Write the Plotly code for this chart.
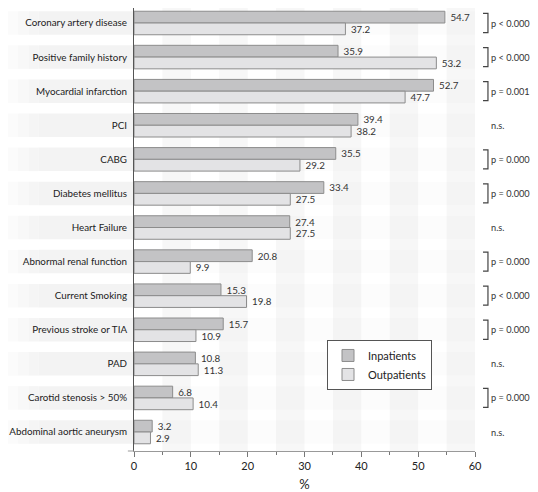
import plotly.graph_objects as go

categories = ["Coronary artery disease", "Positive family history", "Myocardial infarction",
              "PCI", "CABG", "Diabetes mellitus", "Heart Failure", "Abnormal renal function",
              "Current Smoking", "Previous stroke or TIA", "PAD", "Carotid stenosis > 50%",
              "Abdominal aortic aneurysm"]
inpatients = [54.7, 35.9, 52.7, 39.4, 35.5, 33.4, 27.4, 20.8, 15.3, 15.7, 10.8, 6.8, 3.2]
outpatients = [37.2, 53.2, 47.7, 38.2, 29.2, 27.5, 27.5, 9.9, 19.8, 10.9, 11.3, 10.4, 2.9]
p_values = ["p < 0.0001", "p < 0.0001", "p = 0.001", "n.s.", "p = 0.0005", "p = 0.0001", "n.s.",
            "p = 0.0001", "p < 0.0001", "p = 0.0001", "n.s.", "p = 0.0001", "n.s."]
x_tick_vals = [0, 10, 20, 30, 40, 50, 60]

FONT = "Lato"
Y_RANGE = [12.557, -0.44]
NBSP = "\u00a0"

fig = go.Figure()
fig.add_trace(go.Bar(
    y=categories, x=inpatients, orientation="h", name="Inpatients",
    marker=dict(color="#c3c3c5", line=dict(color="#8c8c8c", width=1)),
    text=[f"{NBSP}{v:.1f}" for v in inpatients], textposition="outside", cliponaxis=False,
    textfont=dict(size=10, color="#333333", family=FONT),
))
fig.add_trace(go.Bar(
    y=categories, x=outpatients, orientation="h", name="Outpatients",
    marker=dict(color="#e3e3e5", line=dict(color="#8c8c8c", width=1)),
    text=[f"{NBSP}{v:.1f}" for v in outpatients], textposition="outside", cliponaxis=False,
    textfont=dict(size=10, color="#333333", family=FONT),
))

shapes = []
# vertical background stripes
for s in range(5, 60, 10):
    shapes.append(dict(type="rect", xref="x", yref="y domain", x0=s, x1=s + 5, y0=0, y1=1,
                       fillcolor="#f7f7f7", line=dict(width=0), layer="below"))

def yfrac(v):
    return (Y_RANGE[0] - v) / (Y_RANGE[0] - Y_RANGE[1])

n = len(categories)
for i in range(n):
    # label band (gradient approximation)
    steps = [(-0.37, -0.34, "#fbfbfb"), (-0.34, -0.31, "#f8f8f8"), (-0.31, -0.28, "#f5f5f5"),
             (-0.28, 0.0, "#f3f3f3")]
    for x0, x1, c in steps:
        shapes.append(dict(type="rect", xref="x domain", yref="y domain", x0=x0, x1=x1,
                           y0=yfrac(i + 0.345), y1=yfrac(i - 0.345), fillcolor=c,
                           line=dict(width=0), layer="below"))
    # faint row band
    shapes.append(dict(type="rect", xref="x domain", yref="y domain", x0=0, x1=1,
                       y0=yfrac(i + 0.345), y1=yfrac(i - 0.345), fillcolor="rgba(0,0,0,0.012)",
                       line=dict(width=0), layer="below"))
    if p_values[i] != "n.s.":
        yt, yb = yfrac(i - 0.28), yfrac(i + 0.28)
        shapes.append(dict(type="path", xref="x domain", yref="y domain",
                           path=f"M 1.0235,{yt} L 1.038,{yt} L 1.038,{yb} L 1.0235,{yb}",
                           line=dict(color="#444444", width=1.2)))

# axis line extension to the left of zero
shapes.append(dict(type="line", xref="x domain", yref="y domain", x0=-0.018, x1=0, y0=0, y1=0,
                   line=dict(color="#999999", width=1)))

annotations = []
for i in range(n):
    annotations.append(dict(xref="x domain", yref="y", x=1.044, y=categories[i], text=p_values[i],
                            showarrow=False, xanchor="left", yanchor="middle", borderpad=0,
                            font=dict(size=9.2, color="#333333", family=FONT)))

fig.update_layout(
    width=530, height=484,
    margin=dict(l=126, r=63, t=0, b=41, autoexpand=False),
    plot_bgcolor="white", paper_bgcolor="white",
    barmode="group", bargap=0.31, bargroupgap=0,
    font=dict(family=FONT, size=10, color="#222222"),
    shapes=shapes, annotations=annotations,
    showlegend=True,
    legend=dict(x=0.566, y=0.2506, xanchor="left", yanchor="top", traceorder="normal",
                bgcolor="white", bordercolor="#555555", borderwidth=1, itemwidth=30,
                font=dict(size=11, family=FONT, color="#222222")),
    xaxis=dict(range=[0, 60], tickvals=x_tick_vals, showgrid=False, zeroline=False,
               showline=True, linecolor="#999999", linewidth=1, automargin=False,
               ticks="outside", ticklen=5, tickcolor="#777777",
               minor=dict(dtick=5, tick0=0, ticks="outside", ticklen=3, tickcolor="#777777"),
               tickfont=dict(size=11, color="#222222"),
               title=dict(text="%", font=dict(size=13, color="#222222"), standoff=9)),
    yaxis=dict(type="category", range=Y_RANGE, showgrid=False, zeroline=False, automargin=False,
               showline=True, linecolor="#555555", linewidth=1, ticks="",
               tickfont=dict(size=9.8, color="#222222"), ticklabelstandoff=4),
)

fig.write_html("out.html")
